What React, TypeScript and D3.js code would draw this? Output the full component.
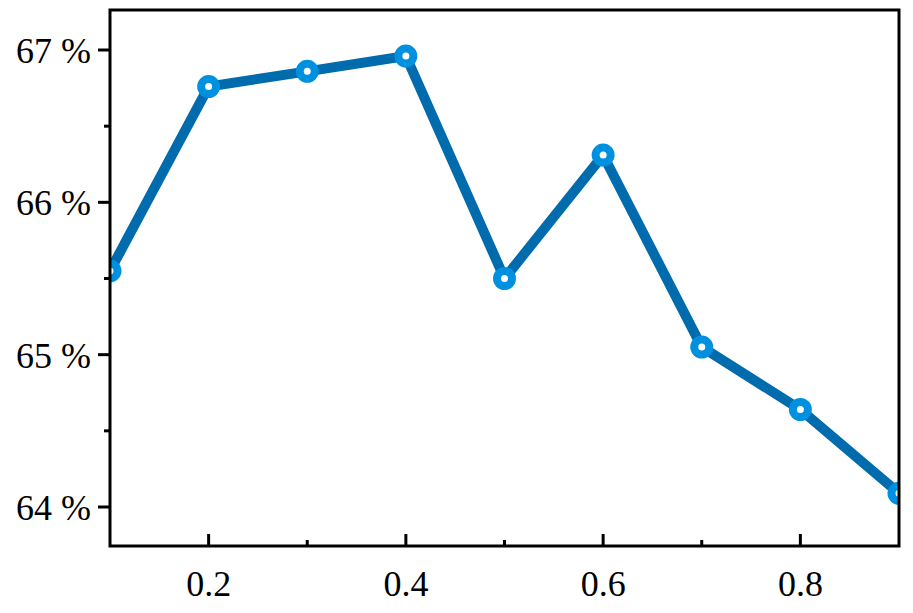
import React from "react";
import * as d3 from "d3";

const xValues = [0.1, 0.2, 0.3, 0.4, 0.5, 0.6, 0.7, 0.8, 0.9];
const yValues = [65.55, 66.76, 66.86, 66.96, 65.5, 66.31, 65.05, 64.64, 64.09];
const xMajorTicks = [0.2, 0.4, 0.6, 0.8];
const xMinorTicks = [0.3, 0.5, 0.7];
const yMajorTicks = [64, 65, 66, 67];
const yMinorTicks = [64.5, 65.5, 66.5];

export default function App() {
  const W = 913, H = 613;
  const left = 110, right = 899, top = 10, bottom = 546;
  const x = d3.scaleLinear().domain([0.1, 0.9]).range([left, right]);
  const y = d3.scaleLinear().domain([64, 67]).range([507, 50]);
  const pts = xValues.map((v, i) => [x(v), y(yValues[i])] as [number, number]);
  const line = d3.line()(pts) || "";
  const font = "'Liberation Serif', 'Times New Roman', serif";
  return (
    <svg width={W} height={H} style={{ position: "absolute", left: 0, top: 0 }}>
      <defs>
        <clipPath id="plot">
          <rect x={left} y={top} width={right - left} height={bottom - top} />
        </clipPath>
      </defs>
      <rect width={W} height={H} fill="white" />
      <g clipPath="url(#plot)">
        <path d={line} fill="none" stroke="#006bad" strokeWidth={10} strokeLinejoin="miter" />
        {pts.map((p, i) => (
          <circle key={i} cx={p[0]} cy={p[1]} r={7.5} fill="white" stroke="#0090e0" strokeWidth={8} />
        ))}
      </g>
      <rect x={left} y={top} width={right - left} height={bottom - top} fill="none" stroke="black" strokeWidth={3} />
      {yMajorTicks.map((t) => (
        <g key={t}>
          <line x1={left - 12} x2={left} y1={y(t)} y2={y(t)} stroke="black" strokeWidth={3} />
          <text x={91} y={y(t) + 1} textAnchor="end" dominantBaseline="central" fontFamily={font} fontSize={36}>
            {`${t} %`}
          </text>
        </g>
      ))}
      {yMinorTicks.map((t) => (
        <line key={t} x1={left - 6} x2={left} y1={y(t)} y2={y(t)} stroke="black" strokeWidth={3} />
      ))}
      {xMajorTicks.map((t) => (
        <g key={t}>
          <line x1={x(t)} x2={x(t)} y1={bottom} y2={bottom - 12} stroke="black" strokeWidth={3} />
          <text x={x(t)} y={584} textAnchor="middle" dominantBaseline="central" fontFamily={font} fontSize={36}>
            {t.toFixed(1)}
          </text>
        </g>
      ))}
      {xMinorTicks.map((t) => (
        <line key={t} x1={x(t)} x2={x(t)} y1={bottom} y2={bottom - 6} stroke="black" strokeWidth={3} />
      ))}
    </svg>
  );
}
